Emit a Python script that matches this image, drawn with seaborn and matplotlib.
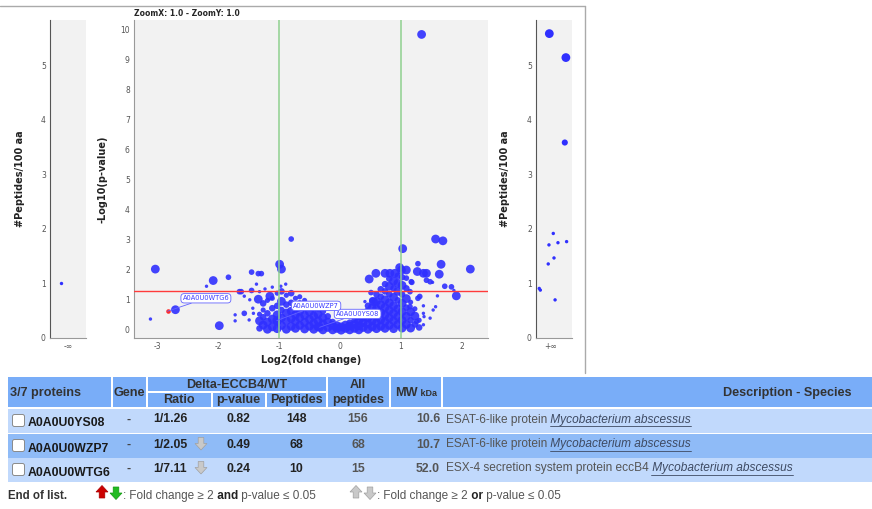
import numpy as np
import pandas as pd
import matplotlib.pyplot as plt
import matplotlib.colors as mcolors
from matplotlib.patches import Rectangle, FancyBboxPatch, Polygon
from matplotlib.lines import Line2D
import seaborn as sns

### ------------------- data ----------------------
# scattered proteins of the volcano plot: log2(fold change), -log10(p), peptides
spread_fc = [-3.03, -2.08, -1.83, -2.19, -0.80, -0.99, -0.96, -1.45, -1.34, -1.29,
             -1.37, -1.23, -1.11, -0.97, -0.89, -1.65, -1.62, -1.45, -1.57, -1.48,
             -1.32, -1.15, -1.34, -2.70, -3.11, -1.98, -1.72, -1.72, -1.57, -1.42,
             -1.49, -1.43,
             1.34, 1.57, 1.69, 1.03, 2.14, 1.66, 1.28, 1.27, 1.37, 1.42,
             1.63, 1.42, 1.52, 1.72, 1.83, 1.91, 1.60, 1.87, 0.48, 0.59,
             0.74, 0.82, 0.90, 0.98, 1.01, 1.09, 1.09, 1.18, 1.31, 1.37,
             1.53, 1.57, 1.37, 1.38, 1.26, 1.48, 1.37, 1.15, 1.28, 1.15,
             0.51, 0.55, 0.41, 1.48, 1.17]
spread_p = [2.02, 1.64, 1.75, 1.45, 3.02, 2.18, 2.02, 1.92, 1.87, 1.87,
            1.52, 1.36, 1.42, 1.45, 1.52, 1.27, 1.27, 1.31, 1.12, 1.00,
            1.27, 1.12, 1.02, 0.67, 0.36, 0.14, 0.50, 0.30, 0.55, 0.55,
            0.33, 0.72,
            9.82, 3.02, 2.96, 2.70, 2.02, 2.18, 2.20, 1.94, 1.88, 1.88,
            1.85, 1.65, 1.58, 1.45, 1.43, 1.13, 1.13, 1.31, 1.69, 1.88,
            1.88, 1.88, 1.88, 2.07, 1.99, 1.99, 1.72, 1.58, 1.11, 0.80,
            0.66, 0.77, 0.55, 0.44, 0.28, 0.39, 0.17, 1.27, 1.05, 0.77,
            1.24, 0.94, 0.94, 1.60, 1.60]
spread_pep = [60, 60, 20, 2, 20, 60, 60, 20, 20, 20,
              2, 2, 2, 2, 2, 20, 20, 20, 2, 2,
              2, 60, 60, 60, 2, 60, 2, 2, 20, 2,
              2, 2,
              60, 60, 60, 60, 60, 60, 20, 60, 60, 60,
              60, 20, 2, 20, 20, 60, 2, 2, 60, 60,
              60, 60, 60, 60, 60, 60, 20, 20, 20, 2,
              2, 2, 2, 2, 20, 2, 2, 20, 20, 20,
              20, 60, 2, 20, 20]

# dense cloud of proteins around zero (one column of points per fold change)
cloud_x = [-1.32, -1.26, -1.19, -1.11, -1.03, -0.96, -0.88, -0.80, -0.73, -0.66,
           -0.58, -0.50, -0.43, -0.36, -0.28, -0.20, -0.12, -0.05, 0.02, 0.09,
           0.16, 0.24, 0.31, 0.38, 0.46, 0.53, 0.60, 0.67, 0.74, 0.81,
           0.88, 0.95, 1.02, 1.09, 1.16, 1.23, 1.30]
cloud_y = [[0.05, 0.30, 0.52], [0.16, 0.42, 0.66, 0.88], [0.02, 0.26, 0.55, 0.98],
           [0.10, 0.36, 0.72, 1.05], [0.04, 0.28, 0.50, 0.80, 1.22],
           [0.15, 0.40, 0.66, 0.95, 1.28], [0.02, 0.30, 0.56, 0.84, 1.15],
           [0.12, 0.38, 0.62, 0.90, 1.22], [0.05, 0.28, 0.50, 0.76, 1.05],
           [0.15, 0.40, 0.62, 0.88, 1.10], [0.03, 0.25, 0.48, 0.72, 0.98],
           [0.12, 0.35, 0.60, 0.85], [0.02, 0.22, 0.46, 0.70], [0.10, 0.30, 0.52, 0.72],
           [0.00, 0.20, 0.40, 0.62], [0.08, 0.26, 0.45], [0.00, 0.15, 0.26],
           [0.05, 0.14], [-0.01, 0.10], [0.05, 0.16], [0.00, 0.13, 0.24],
           [0.05, 0.18, 0.32], [0.00, 0.14, 0.30, 0.42], [0.08, 0.24, 0.42, 0.58],
           [0.02, 0.20, 0.40, 0.60, 0.80], [0.10, 0.30, 0.52, 0.74, 0.98],
           [0.04, 0.24, 0.45, 0.70, 0.95, 1.18], [0.12, 0.34, 0.58, 0.84, 1.10, 1.35],
           [0.05, 0.27, 0.50, 0.75, 1.00, 1.28, 1.52],
           [0.15, 0.40, 0.65, 0.90, 1.18, 1.45, 1.70],
           [0.04, 0.30, 0.55, 0.80, 1.08, 1.38, 1.62],
           [0.18, 0.44, 0.70, 0.98, 1.28, 1.55, 1.80],
           [0.06, 0.32, 0.60, 0.88, 1.18, 1.48, 1.75],
           [0.18, 0.45, 0.74, 1.04, 1.38], [0.06, 0.32, 0.60, 0.92],
           [0.18, 0.46, 0.70], [0.08, 0.32]]
cloud_pep = [[30, 60, 15], [60, 30, 15, 30], [60, 60, 30, 15], [60, 60, 30, 15],
             [60, 60, 60, 30, 15], [60, 60, 30, 60, 30], [60, 60, 60, 30, 15],
             [60, 60, 60, 30, 30], [60, 60, 60, 30, 15], [60, 60, 60, 30, 15],
             [60, 60, 60, 30, 15], [60, 60, 60, 30], [60, 60, 60, 30], [60, 60, 60, 30],
             [60, 60, 60, 30], [60, 60, 30], [60, 60, 30], [60, 60], [60, 60], [60, 60],
             [60, 60, 30], [60, 60, 30], [60, 60, 60, 30], [60, 60, 60, 30],
             [60, 60, 60, 60, 30], [60, 60, 60, 60, 30], [60, 60, 60, 60, 60, 30],
             [60, 60, 60, 60, 30, 30], [60, 60, 60, 60, 60, 30, 30],
             [60, 60, 60, 60, 30, 60, 30], [60, 60, 60, 60, 60, 30, 60],
             [60, 60, 60, 30, 60, 60, 30], [60, 60, 60, 60, 30, 60, 30],
             [60, 60, 30, 60, 30], [60, 30, 60, 15], [30, 60, 15], [30, 15]]

# proteins only found in one condition (-inf / +inf panels): jitter, #peptides/100 aa, peptides
neg_inf_x = [-0.19]
neg_inf_y = [1.0]
neg_inf_pep = [2]
pos_inf_x = [-0.03, 0.43, 0.40, 0.08, -0.04, 0.21, 0.45, 0.10, -0.06, -0.31, -0.28, 0.13]
pos_inf_y = [5.58, 5.14, 3.58, 1.91, 1.70, 1.74, 1.76, 1.46, 1.35, 0.90, 0.87, 0.69]
pos_inf_pep = [60, 60, 25, 2, 2, 2, 2, 2, 2, 2, 2, 2]

# proteins in the table
prot_ids = ['A0A0U0YS08', 'A0A0U0WZP7', 'A0A0U0WTG6']
prot_ratio = ['1/1.26', '1/2.05', '1/7.11']
prot_fold = [1 / 1.26, 1 / 2.05, 1 / 7.11]
prot_pval = [0.82, 0.49, 0.24]
prot_pep = [148, 68, 10]
prot_all = [156, 68, 15]
prot_mw = [10.6, 10.7, 52.0]
prot_desc = ['ESAT-6-like protein', 'ESAT-6-like protein', 'ESX-4 secretion system protein eccB4']
prot_species = 'Mycobacterium abscessus'
prot_down = [False, True, True]
label_xy = [(0.29, 0.53), (-0.39, 0.80), (-2.20, 1.05)]

### ------------------- figure ----------------------
sns.set_style('white')
plt.rcParams['font.family'] = ['DejaVu Sans', 'Liberation Sans']
plt.rcParams['axes.unicode_minus'] = False

W, H = 872, 509
BLUE = '#3030ff'
BG = '#f2f2f2'
SIZES = (6, 40)
fig = plt.figure(figsize=(W / 100, H / 100), dpi=100)


def box(x0, y0, x1, y1):
    return [x0 / W, 1 - y1 / H, (x1 - x0) / W, (y1 - y0) / H]


norm = mcolors.Normalize(2, 60, clip=True)

rows = []
for x, ys, ps in zip(cloud_x, cloud_y, cloud_pep):
    for y, p in zip(ys, ps):
        rows.append((x, y, p))
vol = pd.DataFrame(rows, columns=['fc', 'nlp', 'pep'])
vol = pd.concat([vol, pd.DataFrame({'fc': spread_fc, 'nlp': spread_p, 'pep': spread_pep})])
prot = pd.DataFrame({'fc': np.log2(prot_fold), 'nlp': -np.log10(prot_pval), 'pep': prot_pep})
vol = pd.concat([vol, prot.iloc[:2]], ignore_index=True)

ax = fig.add_axes(box(134, 20, 488, 338))
axl = fig.add_axes(box(50, 20, 86, 338))
axr = fig.add_axes(box(536, 20, 572, 338))

for a in (ax, axl, axr):
    a.set_facecolor(BG)
    a.spines['top'].set_visible(False)
    a.spines['right'].set_visible(False)
    a.spines['left'].set_color('#999999')
    a.spines['bottom'].set_color('#999999')
    a.tick_params(labelsize=5.5, length=2, width=0.6, color='#888888', labelcolor='#555555', pad=1)
for a in (axl, axr):
    a.spines['left'].set_color('#555555')

# main volcano
ax.axhline(-np.log10(0.05), color='#ff3b3b', lw=1.0, zorder=3)
for v in (-1, 1):
    ax.axvline(v, color='#8ed08e', lw=1.2, alpha=0.9, zorder=3)
sns.scatterplot(data=vol, x='fc', y='nlp', size='pep', sizes=SIZES, size_norm=norm,
                color=BLUE, alpha=0.9, linewidth=0, legend=False, ax=ax, zorder=2)
sns.scatterplot(data=prot.iloc[2:], x='fc', y='nlp', size='pep', sizes=SIZES, size_norm=norm,
                color='#ff2a2a', linewidth=0, legend=False, ax=ax, zorder=4)
for i in range(3):
    ax.annotate(prot_ids[i], xy=(prot.fc[i], prot.nlp[i]), xytext=label_xy[i],
                ha='center', va='center', fontsize=4.8, color='#3a3aff', zorder=6,
                bbox=dict(boxstyle='round,pad=0.25,rounding_size=0.5', fc='white', ec='#6464ff', lw=0.6),
                arrowprops=dict(arrowstyle='-', color='#6464ff', lw=0.6, shrinkA=0, shrinkB=0))
ax.set_xlim(-3.38, 2.43)
ax.set_ylim(-0.27, 10.3)
ax.set_xticks(range(-3, 3))
ax.set_yticks(range(0, 11))
ax.set_title('ZoomX: 1.0 - ZoomY: 1.0', loc='left', fontsize=5.5, fontweight='bold', pad=3)
ax.set_xlabel('Log2(fold change)', fontsize=7, fontweight='bold', color='#222222')
ax.xaxis.set_label_coords(0.5, -22 / 318)
ax.xaxis.label.set_verticalalignment('center')
ax.set_ylabel('-Log10(p-value)', fontsize=7, fontweight='bold', color='#222222')
ax.yaxis.set_label_coords((103 - 134) / 354, 0.5)
ax.yaxis.label.set_verticalalignment('center')

# side panels
sns.scatterplot(x=neg_inf_x, y=neg_inf_y, size=neg_inf_pep, sizes=SIZES, size_norm=norm,
                color=BLUE, linewidth=0, legend=False, ax=axl)
sns.scatterplot(x=pos_inf_x, y=pos_inf_y, size=pos_inf_pep, sizes=SIZES, size_norm=norm,
                color=BLUE, linewidth=0, legend=False, ax=axr)
axl.set_xlim(-0.5, 0.5)
axr.set_xlim(-0.4, 0.6)
for a, lab, px in ((axl, '-∞', 20), (axr, '+∞', 505)):
    a.set_ylim(-0.01, 5.83)
    a.set_yticks(range(0, 6))
    a.set_xticks([0])
    a.set_xticklabels([lab])
    a.set_ylabel('#Peptides/100 aa', fontsize=7, fontweight='bold', color='#222222')
    a.yaxis.set_label_coords((px - a.get_position().x0 * W) / 36, 0.5)
    a.yaxis.label.set_verticalalignment('center')

fig.add_artist(Line2D([0, 585 / W], [1 - 6 / H, 1 - 6 / H], color='#aaaaaa', lw=1))
fig.add_artist(Line2D([585 / W, 585 / W], [1 - 6 / H, 1 - 373 / H], color='#aaaaaa', lw=1))

### ------------------- table ----------------------
tab = fig.add_axes([0, 0, 1, 1], zorder=-1)
tab.set_xlim(0, W)
tab.set_ylim(H, 0)
tab.axis('off')
TF = 'Liberation Sans'
HEAD, ROW_A, ROW_B = '#79adf8', '#c1d9fc', '#8fbbf7'
rend = fig.canvas.get_renderer()


def cell(x0, y0, x1, y1, c):
    tab.add_patch(Rectangle((x0, y0), x1 - x0, y1 - y0, fc=c, ec='none'))


def txt(x, y, s, ha='left', size=8.8, color='#333333', **kw):
    return tab.text(x, y, s, ha=ha, va='center', family=TF, fontsize=size, color=color, **kw)


def chain(x, y, parts, **kw):
    spans = []
    for s, extra in parts:
        t = txt(x, y, s, **{**kw, **extra})
        w = t.get_window_extent(rend).width
        spans.append((x, x + w))
        x += w
    return spans


def block_arrow(cx, cy, up, fc, ec):
    s = -1 if up else 1
    pts = [(cx - 2.8, cy - s * 6), (cx + 2.8, cy - s * 6), (cx + 2.8, cy), (cx + 6, cy),
           (cx, cy + s * 6.5), (cx - 6, cy), (cx - 2.8, cy)]
    tab.add_patch(Polygon(pts, closed=True, fc=fc, ec=ec, lw=0.5))


# header
for x0, y0, x1, y1 in [(8, 377, 111, 407), (113, 377, 146, 407), (148, 377, 326, 391),
                       (148, 393, 211, 407), (213, 393, 265, 407), (267, 393, 326, 407),
                       (328, 377, 389, 407), (391, 377, 441, 407), (443, 377, 872, 407)]:
    cell(x0, y0, x1, y1, HEAD)
HB = dict(fontweight='bold', size=9.1)
B = dict(fontweight='bold')
txt(10, 393, '3/7 proteins', **HB)
txt(129, 393, 'Gene', ha='center', **HB)
txt(237, 385, 'Delta-ECCB4/WT', ha='center', **HB)
txt(179, 400, 'Ratio', ha='center', **HB)
txt(238, 400, 'p-value', ha='center', **HB)
txt(296, 400, 'Peptides', ha='center', **HB)
txt(358, 385, 'All', ha='center', **HB)
txt(358, 400, 'peptides', ha='center', **HB)
chain(395, 393, [('MW', HB), (' kDa', dict(fontweight='bold', size=6.5))])
txt(787, 393, 'Description - Species', ha='center', **HB)

# rows
for i, y0 in enumerate([409, 434, 458]):
    cell(8, y0, 872, y0 + 23.5, ROW_B if i == 1 else ROW_A)
    yc = y0 + 11.5
    tab.add_patch(FancyBboxPatch((12.5, yc - 6), 12, 12, boxstyle='round,pad=0,rounding_size=2',
                                 fc='white', ec='#8a8a8a', lw=0.7))
    txt(28, yc + 3, prot_ids[i], color='#1a1a1a', **B)
    txt(129, yc - 1, '-', ha='center', color='#444444', **B)
    txt(153, yc - 1, prot_ratio[i], color='#222222', **B)
    if prot_down[i]:
        block_arrow(201, yc - 2, False, '#c9c9c9', '#a0a0a0')
    txt(238, yc - 1, f'{prot_pval[i]:.2f}', ha='center', color='#222222', **B)
    txt(296, yc - 1, str(prot_pep[i]), ha='center', color='#222222', **B)
    txt(358, yc - 1, str(prot_all[i]), ha='center', color='#555555', **B)
    txt(440, yc - 1, f'{prot_mw[i]:.1f}', ha='right', color='#555555', **B)
    sp = chain(446, yc - 1, [(prot_desc[i], dict(color='#555555')),
                             (' ' + prot_species, dict(color='#3e4a62', style='italic'))], size=8.6)
    tab.plot([sp[1][0] + 2.5, sp[1][1]], [yc + 5, yc + 5], color='#3e4a62', lw=0.6)

# legend line
txt(8, 496, 'End of list.', color='#333333', size=8.3, **B)
block_arrow(102, 492, True, '#cc0000', '#aa0000')
block_arrow(116, 493, False, '#22bb22', '#119911')
chain(123, 496, [(':', {}), (' Fold change ≥ 2', {}), (' and', dict(fontweight='bold', color='#222222')),
                 (' p-value ≤ 0.05', {})], color='#555555', size=8.5)
block_arrow(356, 492, True, '#c9c9c9', '#a0a0a0')
block_arrow(370, 493, False, '#c9c9c9', '#a0a0a0')
chain(377, 496, [(':', {}), (' Fold change ≥ 2', {}), (' or', dict(fontweight='bold', color='#222222')),
                 (' p-value ≤ 0.05', {})], color='#555555', size=8.5)

fig.savefig('out.png', dpi=100)
